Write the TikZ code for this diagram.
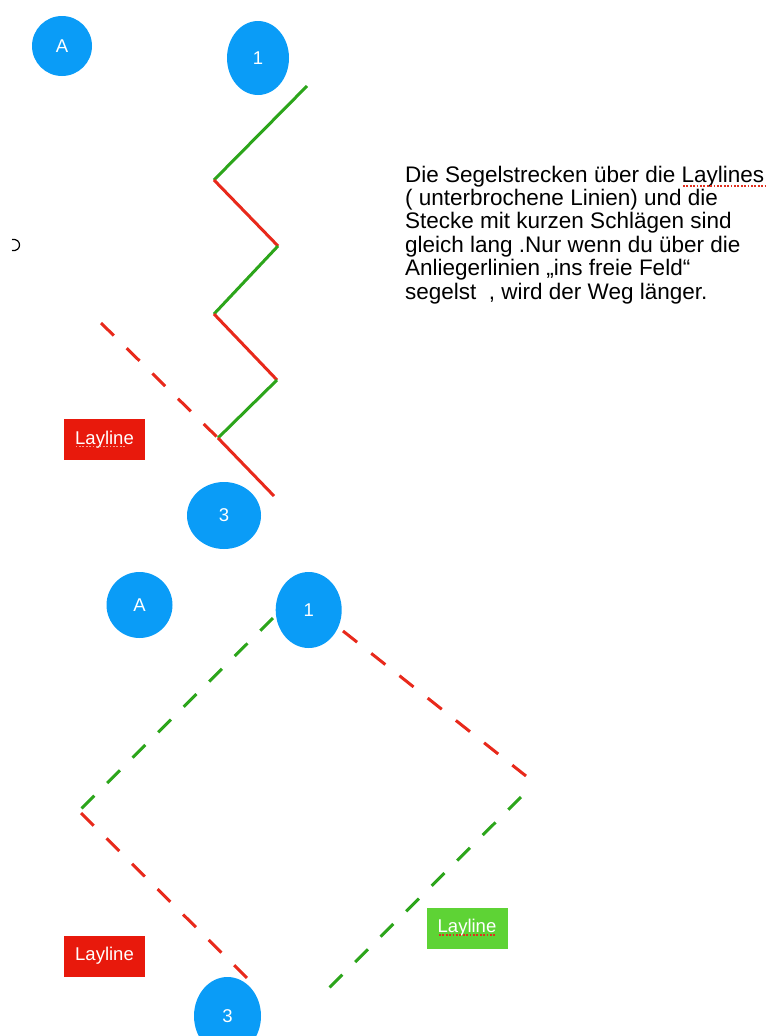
\documentclass[tikz,border=0pt]{standalone}
\usepackage{fontspec}
\setmainfont{Liberation Sans}
\usetikzlibrary{shapes.geometric,calc}

\definecolor{buoyblue}{HTML}{0A9CF7}
\definecolor{tackred}{HTML}{E8291B}
\definecolor{tackgreen}{HTML}{2CA51B}
\definecolor{tagred}{HTML}{E8190C}
\definecolor{taggreen}{HTML}{5ED335}
\definecolor{spellred}{HTML}{E0301F}
\definecolor{spellpink}{HTML}{F3A096}

\tikzset{
        buoy/.style={ellipse, fill=buoyblue, text=white, inner sep=0pt,
                font=\fontsize{18.5}{18.5}\selectfont},
        tack/.style={line width=3pt},
        layline/.style={line width=3pt, dash pattern=on 18pt off 18pt},
        tagbox/.style={rectangle, text=white, inner sep=0pt,
                minimum width=81pt, minimum height=41pt,
                font=\fontsize{18.5}{18.5}\selectfont},
        spell/.style={line width=1.8pt, dash pattern=on 1.8pt off 1.6pt}
}

\begin{document}
\begin{tikzpicture}[x=1pt, y=-1pt]

        \useasboundingbox (0, 0) rectangle (771, 1036);
        \clip (0, 0) rectangle (771, 1036);

        \node[buoy, minimum width=60pt, minimum height=60pt] (topA) at (62, 46) {A};
        \node[buoy, minimum width=62pt, minimum height=74pt] (top1) at (258, 58) {1};
        \node[buoy, minimum width=74pt, minimum height=67pt] (top3) at (224, 515.5) {3};

        \foreach \n/\x/\y in {0/307/86, 1/214/180, 2/278/246, 3/214/314, 4/277/380, 5/218/438, 6/274/496}
        {
                \coordinate (z\n) at (\x, \y);
        }
        \foreach \a/\b/\c in {0/1/tackgreen, 1/2/tackred, 2/3/tackgreen, 3/4/tackred, 4/5/tackgreen, 5/6/tackred}
        {
                \draw[tack, \c] (z\a) -- (z\b);
        }

        \coordinate (l0) at (101, 323);
        \draw[layline, tackred] (l0) -- (z5);

        \node[tagbox, fill=tagred] (tag1) at (104.5, 439.5) {Layline};
        \draw[spell, spellpink] ($(tag1.center)+(-29, 7)$) -- ($(tag1.center)+(22, 7)$);

        \draw[line width=1.2pt] (12, 239.5) .. controls (22, 238) and (22, 252) .. (12, 250.5);

        \node[align=left, anchor=north west, inner sep=0pt,
                font=\fontsize{22.5}{23.4}\selectfont] (note) at (405, 165.5)
                {Die Segelstrecken über die Laylines\\
                 ( unterbrochene Linien) und die\\
                 Stecke mit kurzen Schlägen sind\\
                 gleich lang .Nur wenn du über die\\
                 Anliegerlinien „ins freie Feld“\\
                 segelst\ \ , wird der Weg länger.};
        \draw[spell, spellred] (683, 186) -- (766, 186);

        \node[buoy, minimum width=66pt, minimum height=66pt] (lowA) at (139.5, 605) {A};
        \node[buoy, minimum width=66pt, minimum height=76pt] (low1) at (308.7, 610) {1};
        \node[buoy, minimum width=67pt, minimum height=78pt] (low3) at (227.5, 1016) {3};

        \foreach \n/\x/\y in {1/273/618, 2/81/809, 3/81/813, 4/247/978, 5/343/631, 6/526/776, 7/521/797, 8/328/989}
        {
                \coordinate (d\n) at (\x, \y);
        }
        \draw[layline, tackgreen] (d1) -- (d2);
        \draw[layline, tackred] (d3) -- (d4);
        \draw[layline, tackred] (d5) -- (d6);
        \draw[layline, tackgreen] (d7) -- (d8);

        \node[tagbox, fill=tagred] (tag2) at (104.5, 956) {Layline};
        \node[tagbox, fill=taggreen] (tag3) at (467, 928) {Layline};
        \draw[spell, spellred] ($(tag3.center)+(-28, 7)$) -- ($(tag3.center)+(28, 7)$);

\end{tikzpicture}
\end{document}
